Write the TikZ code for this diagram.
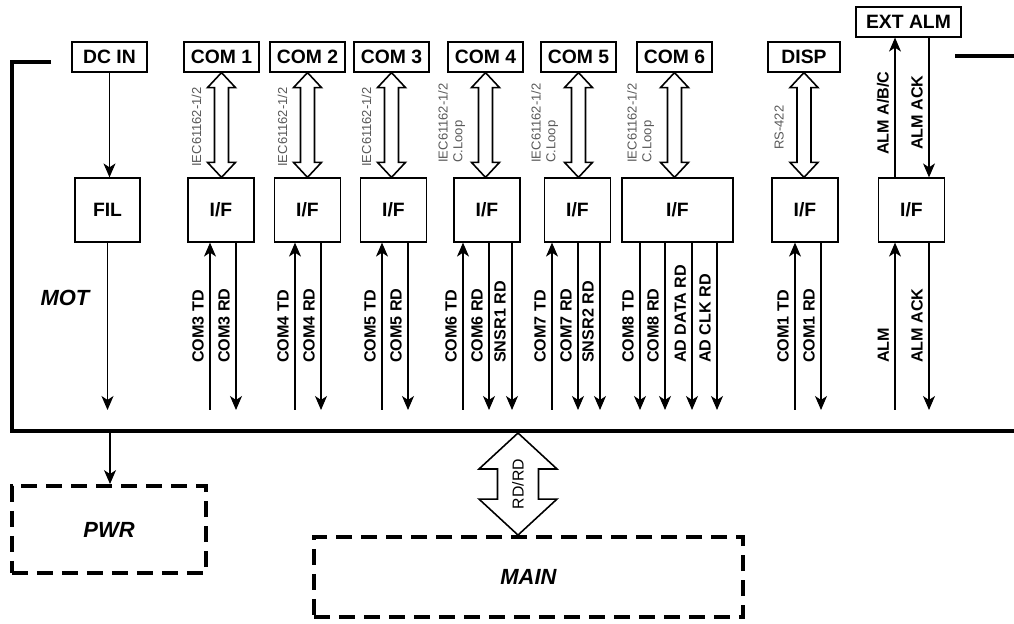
\documentclass[tikz,border=0pt]{standalone}
\usepackage{fontspec}
\setmainfont{Liberation Sans}
\usetikzlibrary{arrows.meta,calc}

\def\px{0.02cm}
\newcommand{\iecspec}{IEC61162-1/2}

% hollow double-headed arrow between two named points (top, bottom)
% #3 shaft half width, #4 head half width, #5 head length
\newcommand{\dblarrow}[5]{%
  \draw[hollow] (#1) -- ($(#1)+(#4,#5)$) -- ($(#1)+(#3,#5)$)
    -- ($(#2)+(#3,-#5)$) -- ($(#2)+(#4,-#5)$) -- (#2)
    -- ($(#2)+(-#4,-#5)$) -- ($(#2)+(-#3,-#5)$)
    -- ($(#1)+(-#3,#5)$) -- ($(#1)+(-#4,#5)$) -- cycle;}

\tikzset{
  box/.style={draw, line width=0.7pt, inner sep=0pt, font=\bfseries\fontsize{11}{13}\selectfont},
  port/.style={box, minimum width=75*\px, minimum height=30*\px},
  ifbox/.style={box, minimum width=66*\px, minimum height=64*\px},
  sig/.style={line width=0.6pt},
  sigup/.style={<-},
  sigdn/.style={->},
  siglabel/.style={rotate=90, anchor=south west, inner sep=1pt, font=\bfseries\fontsize{9.2}{11}\selectfont},
  speclabel/.style={rotate=90, anchor=south west, inner sep=0pt, align=left, text=black!65, font=\fontsize{7.4}{8.4}\selectfont},
  hollow/.style={draw, line width=0.9pt, fill=white, line join=miter},
  frame/.style={line width=2.4pt},
  module/.style={draw, dash pattern=on 0.32cm off 0.18cm, line width=2.2pt, font=\bfseries\itshape\fontsize{12.5}{14}\selectfont},
}

\begin{document}
\begin{tikzpicture}[x=\px, y=-\px, >={Stealth[length=0.28cm, width=0.24cm, inset=0.08cm]}]
  \useasboundingbox (0,0) rectangle (1014,624);

  % MOT board outline
  \draw[frame] (51,62) -- (12,62) -- (12,431) -- (1020,431);
  \draw[frame] (955,56) -- (1020,56);
  \node[font=\bfseries\itshape\fontsize{12.5}{14}\selectfont] (mot) at (65,298) {MOT};

  % Connectors on top
  \node[port] (dcin) at (109.5,57) {DC IN};
  \foreach \n/\c in {1/221.5,2/307.5,3/391.5,4/485.5,5/578.5,6/674.5}
    \node[port] (com\n) at (\c,57) {COM \n};
  \node[port, minimum width=72*\px] (disp) at (804,57) {DISP};
  \node[port, minimum width=105*\px] (extalm) at (908.5,22) {EXT ALM};

  % Filter and interface blocks
  \node[ifbox, minimum width=65*\px] (fil) at (107.5,210) {FIL};
  \foreach \n/\c in {1/221,2/307.5,3/393.5,4/487,5/577.5,7/805,8/911.5}
    \node[ifbox] (if\n) at (\c,210) {I/F};
  \node[ifbox, minimum width=111*\px] (if6) at (677.5,210) {I/F};

  % Serial links: connector to interface
  \foreach \n in {1,...,6} {
    \coordinate (t\n) at (com\n.south);
    \coordinate (b\n) at (com\n.south |- if\n.north);
    \dblarrow{t\n}{b\n}{7}{14}{15}
  }
  \coordinate (t7) at (disp.south);
  \coordinate (b7) at (disp.south |- if7.north);
  \dblarrow{t7}{b7}{7}{14}{15}

  % Link standards
  \foreach \n/\lab/\yb in {1/\iecspec/167, 2/\iecspec/167, 3/\iecspec/167,
      4/{\iecspec\\C.Loop}/163, 5/{\iecspec\\C.Loop}/163, 6/{\iecspec\\C.Loop}/163}
    \node[speclabel] (spec\n) at ($(com\n.south |- 0,\yb)+(-20,0)$) {\lab};
  \node[speclabel] (spec7) at ($(disp.south |- 0,150)+(-20,0)$) {RS-422};

  % Power input
  \draw[sig,->] (dcin) -- (dcin |- fil.north);
  \draw[sig,->] (fil) -- (fil |- 0,410);

  % Signals between interfaces and board
  \foreach \b/\x/\d/\lab in {if1/210/sigup/COM3 TD, if1/236/sigdn/COM3 RD,
      if2/295/sigup/COM4 TD, if2/321/sigdn/COM4 RD,
      if3/382/sigup/COM5 TD, if3/408/sigdn/COM5 RD,
      if4/463/sigup/COM6 TD, if4/489/sigdn/COM6 RD, if4/512/sigdn/SNSR1 RD,
      if5/552/sigup/COM7 TD, if5/578/sigdn/COM7 RD, if5/600/sigdn/SNSR2 RD,
      if6/640/sigdn/COM8 TD, if6/665/sigdn/COM8 RD, if6/692/sigdn/AD DATA RD, if6/717/sigdn/AD CLK RD,
      if7/795/sigup/COM1 TD, if7/821/sigdn/COM1 RD,
      if8/895/sigup/ALM, if8/929/sigdn/ALM ACK} {
    \draw[sig,\d] (\x,0 |- \b.south) -- (\x,410);
    \node[siglabel] (s\x) at (\x-4,365) {\lab};
  }

  % External alarm
  \draw[sig,->] (895,0 |- if8.north) -- (895,0 |- extalm.south);
  \draw[sig,->] (929,0 |- extalm.south) -- (929,0 |- if8.north);
  \node[siglabel] (almabc) at (891,157) {ALM A/B/C};
  \node[siglabel] (almack) at (925,152) {ALM ACK};

  % Power and main boards
  \node[module, minimum width=194*\px, minimum height=87*\px] (pwr) at (109,529.5) {PWR};
  \node[module, minimum width=429*\px, minimum height=80*\px] (main) at (528.5,577) {MAIN};
  \coordinate (pwrtap) at (110,431);
  \draw[sig,->] (pwrtap) -- (pwrtap |- pwr.north);

  % Bus to main board
  \coordinate (bustop) at (518,433);
  \coordinate (busbot) at (bustop |- main.north);
  \dblarrow{bustop}{busbot}{20.5}{39}{36}
  \node[rotate=90, font=\fontsize{9}{10}\selectfont] (rdrd) at ($(bustop)!0.5!(busbot)$) {RD/RD};
\end{tikzpicture}
\end{document}
